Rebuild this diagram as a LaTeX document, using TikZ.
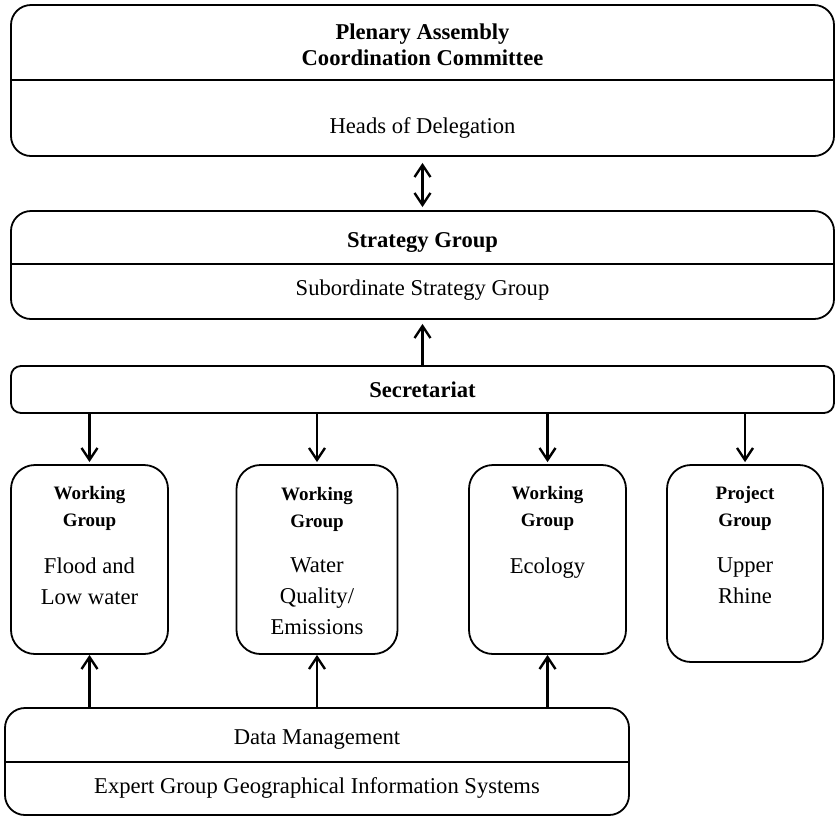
\documentclass[tikz,border=0pt]{standalone}
\usepackage{fontspec}
\setmainfont{Liberation Serif}
\usetikzlibrary{arrows.meta}

\begin{document}
\begin{tikzpicture}[x=0.5pt,y=-0.5pt,line width=0.9pt,
  box/.style={draw,rounded corners=10pt,inner sep=0},
  txt/.style={font=\fontsize{11.3}{13}\selectfont,anchor=base,inner sep=0},
  head/.style={font=\fontsize{11.3}{13}\selectfont\bfseries,align=center,inner sep=0},
  small/.style={font=\fontsize{9.5}{13.5}\selectfont\bfseries,align=center,inner sep=0},
  body/.style={font=\fontsize{11.3}{15.5}\selectfont,align=center,anchor=north,inner sep=0},
  arr/.style={-{Straight Barb[length=6pt,width=8pt]},line width=1.2pt}]
  \useasboundingbox (0,0) rectangle (835,816);
  % plenary
  \node[box,minimum width=411.5pt,minimum height=75.5pt] (plen) at (422.5,80.5) {};
  \draw (plen.west |- 0,80) -- (plen.east |- 0,80);
  \node[head] (plentitle) at (422.5,45) {Plenary Assembly\\Coordination Committee};
  \node[txt] (heads) at (422.5,133.5) {Heads of Delegation};
  % strategy
  \node[box,minimum width=411.5pt,minimum height=54pt] (strat) at (422.5,265) {};
  \draw (strat.west |- 0,264) -- (strat.east |- 0,264);
  \node[head,anchor=base] (strattitle) at (422.5,247.5) {Strategy Group};
  \node[txt] (sub) at (422.5,295.5) {Subordinate Strategy Group};
  % secretariat
  \node[box,rounded corners=5pt,minimum width=411.5pt,minimum height=23.5pt,
    font=\fontsize{11.3}{13}\selectfont\bfseries] (secr) at (422.5,389.5) {Secretariat};
  % groups
  \node[box,rounded corners=12pt,minimum width=78.5pt,minimum height=94.5pt] (flood) at (89.5,559.5) {};
  \node[small] (floodlab) at (89.5,508) {Working\\Group};
  \node[body] (floodtxt) at (89.5,557) {Flood and\\Low water};
  \node[box,rounded corners=12pt,minimum width=80.5pt,minimum height=94.5pt] (quality) at (317,559.5) {};
  \node[small] (qualitylab) at (317,509) {Working\\Group};
  \node[body] (qualitytxt) at (317,557) {Water\\Quality/\\Emissions};
  \node[box,rounded corners=12pt,minimum width=78.5pt,minimum height=94.5pt] (ecology) at (547.5,559.5) {};
  \node[small] (ecologylab) at (547.5,508) {Working\\Group};
  \node[body] (ecologytxt) at (547.5,557) {Ecology};
  \node[box,rounded corners=12pt,minimum width=78pt,minimum height=98.5pt] (rhine) at (745,563.5) {};
  \node[small] (rhinelab) at (745,508) {Project\\Group};
  \node[body] (rhinetxt) at (745,557) {Upper\\Rhine};
  % data management
  \node[box,minimum width=312pt,minimum height=53.5pt] (data) at (317,761.5) {};
  \draw (data.west |- 0,762) -- (data.east |- 0,762);
  \node[txt] (datatxt) at (317,744.5) {Data Management};
  \node[txt] (gis) at (317,793.5) {Expert Group Geographical Information Systems};
  % arrows
  \draw[arr,{Straight Barb[length=6pt,width=8pt]}-{Straight Barb[length=6pt,width=8pt]},
    shorten <=3pt,shorten >=1.5pt] (plen) -- (strat);
  \draw[arr,shorten >=2pt] (secr) -- (strat);
  \draw[arr,shorten >=1pt] (secr.south -| flood) -- (flood);
  \draw[arr,shorten >=1pt] (secr.south -| quality) -- (quality);
  \draw[arr,shorten >=1pt] (secr.south -| ecology) -- (ecology);
  \draw[arr,shorten >=1pt] (secr.south -| rhine) -- (rhine);
  \draw[arr] (data.north -| flood) -- (flood);
  \draw[arr] (data.north -| quality) -- (quality);
  \draw[arr] (data.north -| ecology) -- (ecology);
\end{tikzpicture}
\end{document}
